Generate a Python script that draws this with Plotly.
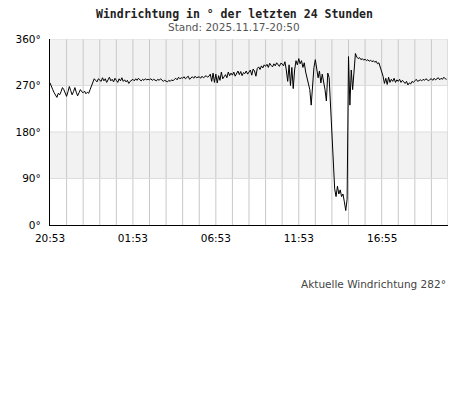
import plotly.graph_objects as go
import pandas as pd

start_time = "2025-11-16 20:53"
step_minutes = 5
wind_dir = [
    275, 270, 262, 256, 250, 247, 255, 252, 258, 266, 262, 254,
    249, 258, 268, 260, 252, 258, 266, 257, 250, 256, 262, 258,
    256, 259, 254, 257, 255, 262, 268, 274, 283, 280, 277, 283,
    281, 278, 285, 279, 283, 276, 281, 286, 279, 282, 277, 284,
    280, 276, 283, 279, 285, 278, 281, 277, 280, 274, 278, 281,
    282, 279, 283, 280, 284, 281, 279, 282, 280, 283, 281, 282,
    281, 283, 280, 282, 281, 279, 282, 280, 283, 281, 278, 280,
    279, 277, 280, 278, 281, 279, 282, 284, 281, 286, 283, 285,
    284, 287, 283, 286, 288, 282, 285, 287, 284, 288, 285, 286,
    287, 284, 288, 285, 287, 289, 286, 288, 292, 278, 294, 276,
    292, 275, 289, 280, 296, 283, 287, 291, 285, 296, 289, 294,
    290, 296, 288, 294, 298, 291, 297, 289, 295, 293, 298, 292,
    296, 300, 290, 302, 298, 288, 303, 306, 301, 308, 304, 310,
    307, 311, 305, 313, 309, 306, 312, 308, 314, 310, 307, 313,
    312, 308, 316, 300, 278, 310, 270, 305, 264, 300, 318, 310,
    322, 312, 318, 305, 314, 296, 285, 276, 262, 232, 280, 305,
    320, 300, 285, 298, 275, 292, 280, 262, 240, 294, 285, 235,
    190, 130, 70, 55, 75, 60, 68, 55, 60, 45, 28, 50,
    326, 232, 300, 262, 290, 332, 325, 322, 324, 320, 322, 319,
    321, 318, 320, 317, 319, 316, 318, 315, 317, 312, 314, 306,
    298, 288, 274, 284, 272, 286, 276, 282, 278, 284, 276, 281,
    278, 282, 276, 280, 277, 274, 278, 271, 275, 273, 278, 276,
    279, 282, 278, 280, 281, 279, 282, 280, 283, 281, 279, 282,
    283, 280, 284, 281, 283, 285, 281, 284, 282, 286, 283, 282,
]
x_tick_times = ["2025-11-16 20:53", "2025-11-17 01:53", "2025-11-17 06:53",
                "2025-11-17 11:53", "2025-11-17 16:55"]
x_tick_labels = ["20:53", "01:53", "06:53", "11:53", "16:55"]
y_tick_vals = [0, 90, 180, 270, 360]
y_tick_labels = ["0°", "90°", "180°", "270°", "360°"]
title_text = "Windrichtung in ° der letzten 24 Stunden"
subtitle_text = "Stand: 2025.11.17-20:50"
current_text = "Aktuelle Windrichtung 282°"

times = pd.date_range(start_time, periods=len(wind_dir), freq=f"{step_minutes}min")
x0 = pd.Timestamp(start_time)
x1 = x0 + pd.Timedelta(hours=24)

fig = go.Figure()

# background bands
for lo, hi, col in [(270, 360, "#f2f2f2"), (90, 180, "#f2f2f2")]:
    fig.add_shape(type="rect", xref="x", yref="y", x0=x0, x1=x1, y0=lo, y1=hi,
                  fillcolor=col, line_width=0, layer="below")

fig.add_trace(go.Scatter(x=times, y=wind_dir, mode="lines",
                         line=dict(color="black", width=1), hoverinfo="skip"))

hour_grid = pd.date_range(x0, x1, freq="1h")

fig.update_layout(
    template="none",
    width=468, height=415,
    margin=dict(l=42, r=28, t=31, b=198, pad=0),
    paper_bgcolor="white", plot_bgcolor="rgba(0,0,0,0)",
    showlegend=False,
    font=dict(family="DejaVu Sans", size=10.5, color="black"),
    xaxis=dict(range=[x0, x1], showgrid=False, zeroline=False, automargin=False,
               tickvals=x_tick_times, ticktext=x_tick_labels,
               ticks="outside", ticklen=3, tickcolor="rgba(0,0,0,0)",
               showline=True, linecolor="black", linewidth=1.2,
               tickfont=dict(size=10.5, color="black")),
    yaxis=dict(range=[0, 360], showgrid=False, zeroline=False, automargin=False,
               tickvals=y_tick_vals, ticktext=y_tick_labels,
               ticks="outside", ticklen=6, tickcolor="rgba(0,0,0,0)",
               showline=True, linecolor="black", linewidth=1.2,
               tickfont=dict(size=10.5, color="black")),
)

for t in hour_grid[1:]:
    fig.add_shape(type="line", xref="x", yref="y", x0=t, x1=t, y0=0, y1=360,
                  line=dict(color="#c8c8c8", width=1), layer="below")
for v in y_tick_vals[1:]:
    fig.add_shape(type="line", xref="x", yref="y", x0=x0, x1=x1, y0=v, y1=v,
                  line=dict(color="#dddddd", width=1), layer="below")

fig.add_annotation(text="<b>" + title_text + "</b>", xref="paper", yref="paper",
                   x=0.5, y=1, xanchor="center", yanchor="middle", showarrow=False,
                   font=dict(family="DejaVu Sans Mono", size=11.5, color="#222"),
                   xshift=-15, yshift=25.5)
fig.add_annotation(text=subtitle_text, xref="paper", yref="paper",
                   x=0.5, y=1, xanchor="center", yanchor="middle", showarrow=False,
                   font=dict(family="DejaVu Sans", size=10.5, color="#555"),
                   xshift=-15, yshift=12)
fig.add_annotation(text=current_text, xref="paper", yref="paper",
                   x=1, y=0, xanchor="right", yanchor="middle", showarrow=False,
                   font=dict(family="DejaVu Sans", size=10.5, color="#444"),
                   xshift=0, yshift=-59)

fig.write_html("out.html")
